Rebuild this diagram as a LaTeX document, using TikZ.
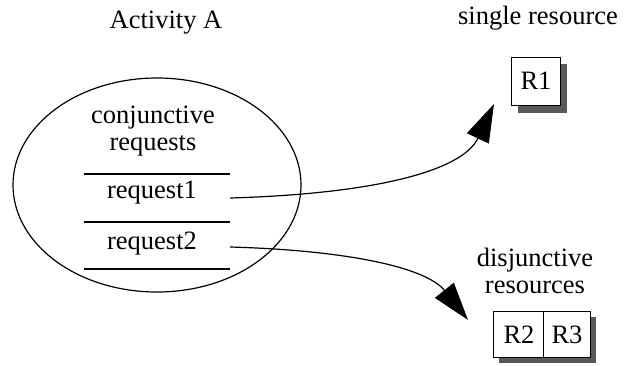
\documentclass[tikz,border=0pt]{standalone}
\usepackage{fontspec}
\setmainfont{Liberation Serif}
\usetikzlibrary{arrows.meta}
\begin{document}
\begin{tikzpicture}[x=1pt,y=-1pt,
  every node/.style={font=\fontsize{26.5}{27}\selectfont, inner sep=0pt},
  ln/.style={line width=1.2pt},
  res/.style={draw, line width=1pt, fill=white},
  shadow/.style={fill=black!65},
  arr/.style={line width=1.2pt, -{Triangle[length=38pt,width=24pt]}}]
\useasboundingbox (0,0) rectangle (624,365);
\node (act) at (166,23) {Activity A};
\draw[ln] (157,185) ellipse [x radius=144, y radius=107];
\node (conj1) at (153,118) {conjunctive};
\node (conj2) at (153,146) {requests};
\draw[ln] (84,174) coordinate (l1a) -- (230,174) coordinate (l1b);
\node (rq1) at (152,193) {request1};
\draw[ln] (84,222) coordinate (l2a) -- (230,222) coordinate (l2b);
\node (rq2) at (152,244) {request2};
\draw[ln] (84,269) coordinate (l3a) -- (230,269) coordinate (l3b);
\coordinate (s1) at (230,198);
\coordinate (s2) at (230,247);
% single resource
\node (single) at (538,18) {single resource};
\fill[shadow] (518,64) rectangle (567,113);
\draw[res] (511,57) rectangle (560,105);
\node (r1) at (536,81) {R1};
\coordinate (t1) at (494,104);
% disjunctive
\node (disj1) at (535,260) {disjunctive};
\node (disj2) at (535,287) {resources};
\fill[shadow] (499,317) rectangle (596,363);
\draw[res] (493,311) rectangle (590,357);
\draw[line width=1pt] (543,311) -- (543,357);
\node (r2) at (519,335) {R2};
\node (r3) at (567,335) {R3};
\coordinate (t2) at (468,320);
% arrows
\draw[arr] (s1) .. controls (370,194) and (462,172) .. (t1);
\draw[arr] (s2) .. controls (340,250) and (425,266) .. (t2);
\end{tikzpicture}
\end{document}
